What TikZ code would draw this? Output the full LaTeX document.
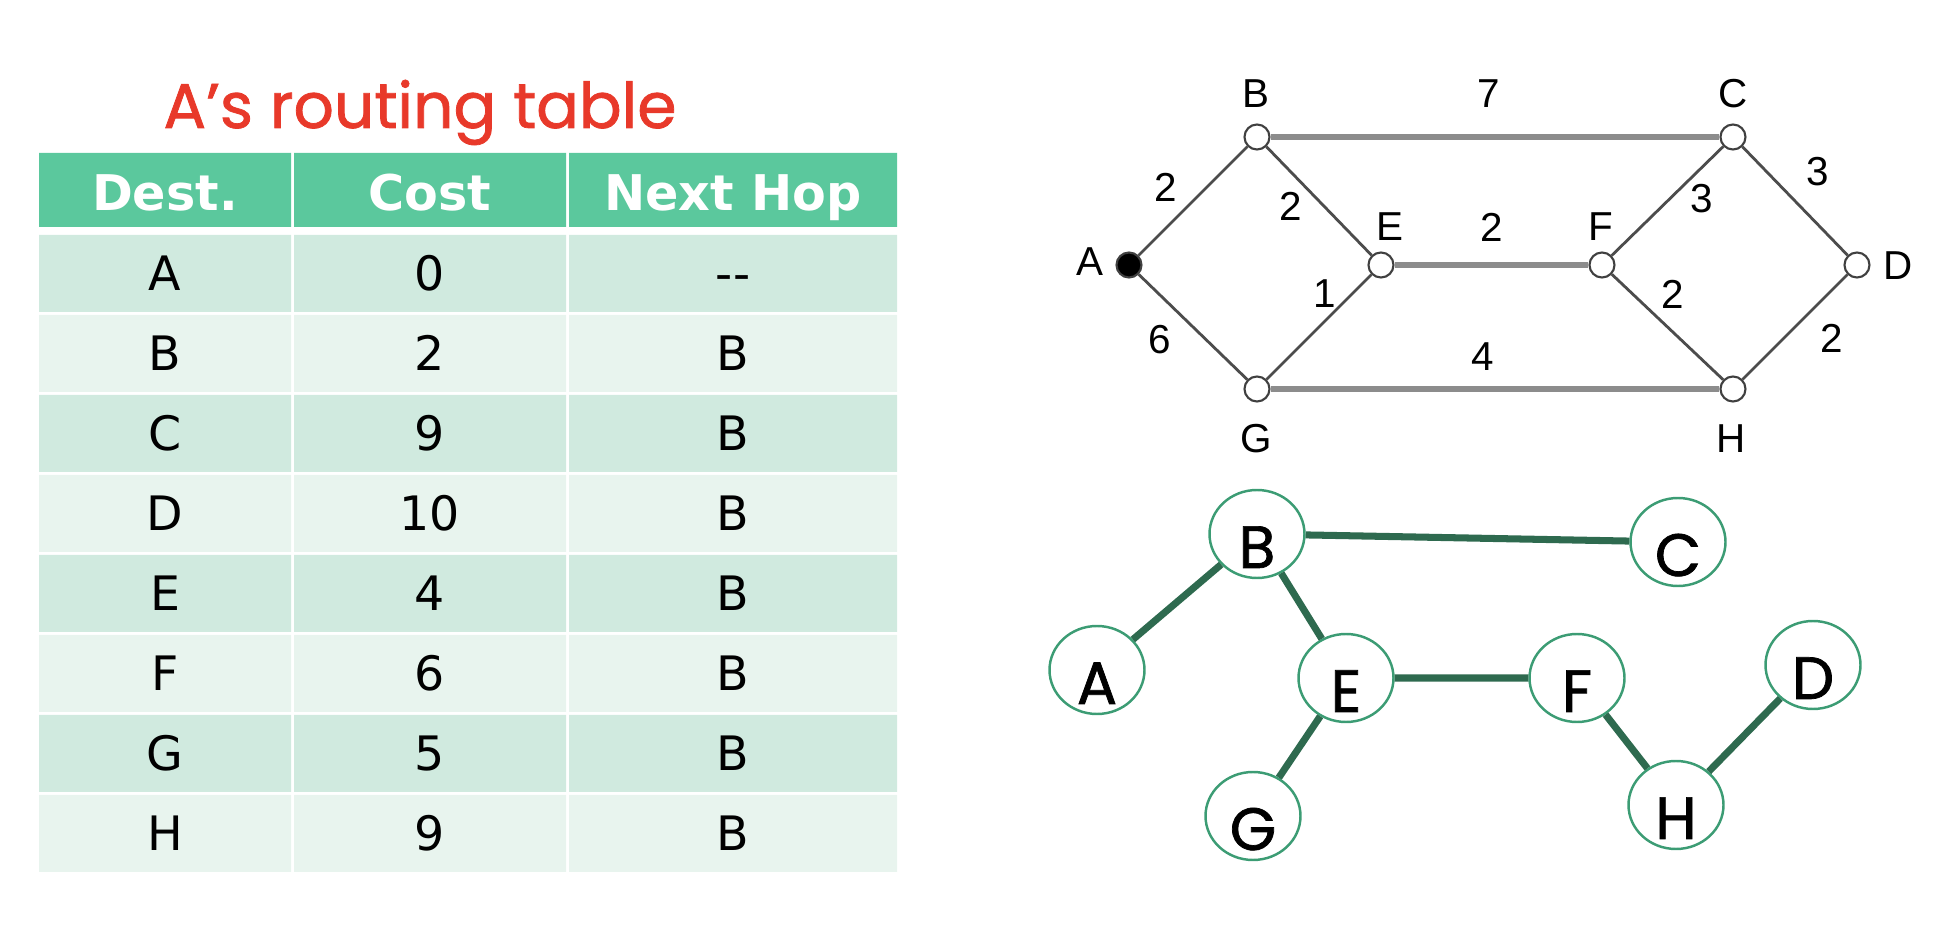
\documentclass[tikz,border=0pt]{standalone}
\usepackage{fontspec}
\setmainfont{DejaVu Sans}
\newfontfamily\graphfont{Liberation Sans}
\newfontfamily\comicfont{Poppins}[FakeBold=1.2]
\usetikzlibrary{shapes.geometric}
\definecolor{headgreen}{HTML}{5BC89D}
\definecolor{rowdark}{HTML}{D0EADF}
\definecolor{rowlight}{HTML}{E8F4EE}
\definecolor{titlered}{HTML}{E8392A}
\definecolor{treeline}{HTML}{2E6A4F}
\definecolor{treering}{HTML}{3C9C74}
\newcommand{\droplbl}[1]{\raisebox{-3.4mm}[0pt][0pt]{#1}}

\begin{document}
\begin{tikzpicture}[x=0.1mm,y=-0.1mm]
\tikzset{router/.style={circle, draw=black!75, fill=white, line width=0.6pt, inner sep=0pt, minimum size=2.5mm}}
\tikzset{source/.style={router, fill=black}}
\tikzset{link/.style={draw=black!70, line width=0.8pt}}
\tikzset{trunk/.style={draw=black!45, line width=1.6pt}}
\tikzset{weight/.style={font=\graphfont\fontsize{11.5}{13}\selectfont}}
\tikzset{spanner/.style={ellipse, draw=treering, fill=white, line width=0.7pt, inner sep=0pt, minimum width=9.5mm, minimum height=8.8mm, font=\comicfont\fontsize{17}{17}\selectfont}}
\tikzset{branch/.style={draw=treeline, line width=2pt}}
\tikzset{head/.style={anchor=base, text=white, font=\bfseries\fontsize{14}{14}\selectfont}}
\tikzset{entry/.style={anchor=base, font=\fontsize{13.5}{14}\selectfont}}
\useasboundingbox (0,0) rectangle (1934,932);

\node[anchor=base, text=titlered, font=\comicfont\fontsize{18}{20}\selectfont] (title) at (420,128) {A’s routing table};

\fill[headgreen] (39,153) rectangle (291,227) (294,153) rectangle (566,227) (569,153) rectangle (897,227);
\node[head] (hdest) at (165,211) {Dest.};
\node[head] (hcost) at (430,211) {Cost};
\node[head] (hhop) at (733,211) {Next Hop};
\foreach \d/\c/\h/\tint [count=\i from 0] in {A/0/-{}-/rowdark, B/2/B/rowlight, C/9/B/rowdark, D/10/B/rowlight, E/4/B/rowdark, F/6/B/rowlight, G/5/B/rowdark, H/9/B/rowlight} {
  \fill[\tint] (39,235+80*\i) rectangle (291,312+80*\i) (294,235+80*\i) rectangle (566,312+80*\i) (569,235+80*\i) rectangle (897,312+80*\i);
  \node[entry] (dest\d) at (165,291+80*\i) {\d};
  \node[entry] (cost\d) at (430,291+80*\i) {\c};
  \node[entry] (hop\d) at (733,291+80*\i) {\h};
}

\node[source] (A) at (1129,265) {};
\foreach \n/\x/\y in {B/1257/137, C/1733/137, D/1857/265, E/1381/265, F/1602/265, G/1257/389, H/1733/389}
  \node[router] (\n) at (\x,\y) {};
\draw[link] (A) -- (B) (A) -- (G) (B) -- (E) (E) -- (G) (C) -- (F) (C) -- (D) (F) -- (H) (D) -- (H);
\draw[trunk] (B) -- (C) (E) -- (F) (G) -- (H);
\foreach \n/\t/\x/\y in {nameA/A/1090/262, nameB/B/1256/94, nameC/C/1733/94, nameD/D/1898/266, nameE/E/1390/227, nameF/F/1601/227, nameG/G/1256/439, nameH/H/1731/439, costAB/2/1166/187, costBE/2/1291/206, costBC/7/1489/94, costEF/2/1492/227, costCF/3/1702/199, costCD/3/1818/172, costEG/1/1325/294, costAG/6/1160/340, costGH/4/1483/357, costFH/2/1673/294, costDH/2/1832/338}
  \node[weight] (\n) at (\x,\y) {\t};

\foreach \n/\x/\y in {B/1257/534, C/1678/542, A/1097/670, E/1346/678, F/1577/678, D/1813/665, G/1253/816, H/1676/805}
  \node[spanner] (t\n) at (\x,\y) {\droplbl{\n}};
\draw[branch] (tB) -- (tC) (tB) -- (tA) (tB) -- (tE) (tE) -- (tF) (tE) -- (tG) (tF) -- (tH) (tH) -- (tD);
\end{tikzpicture}
\end{document}
